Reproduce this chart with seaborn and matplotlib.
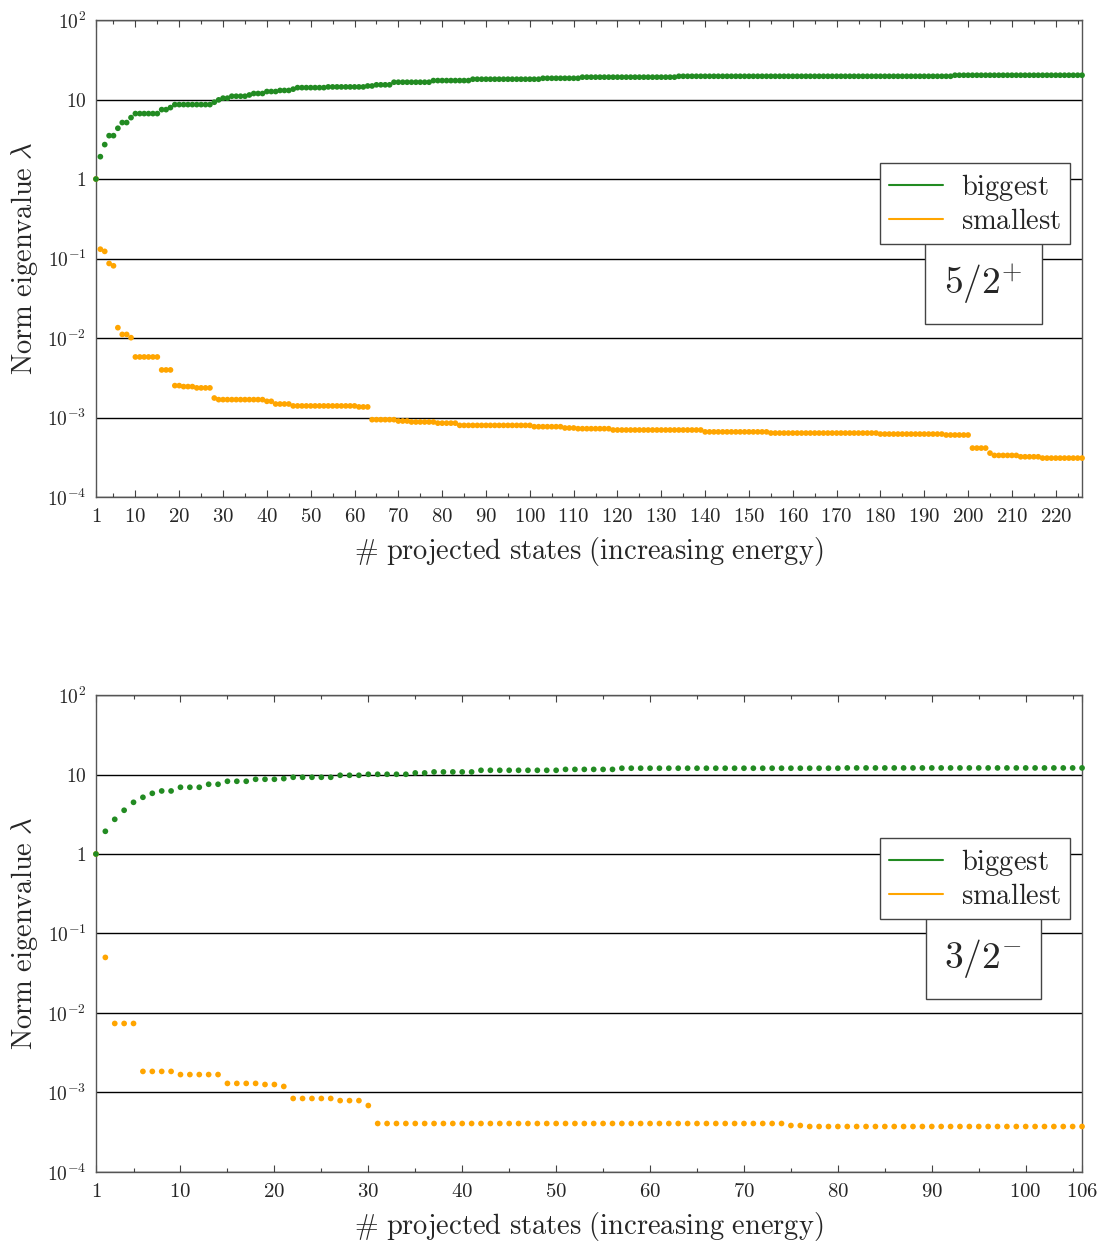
import matplotlib
matplotlib.use("Agg")
import matplotlib.pyplot as plt
from matplotlib.lines import Line2D
from matplotlib.ticker import MultipleLocator, NullLocator
import pandas as pd
import seaborn as sns

sns.set_style("white")
plt.rcParams['mathtext.fontset'] = 'cm'
plt.rcParams['font.family'] = ['DejaVu Serif']

GREEN = '#228b22'
ORANGE = '#ffa500'

# 5/2+ : 226 projected states
top_biggest = [
    1.0, 1.91, 2.71, 3.51, 3.51, 4.35, 5.13, 5.13, 5.92, 6.65,
    6.65, 6.65, 6.65, 6.65, 6.65, 7.46, 7.46, 7.91, 8.63, 8.63,
    8.63, 8.63, 8.63, 8.63, 8.63, 8.63, 8.63, 9.24, 9.89, 10.4,
    10.4, 11.0, 11.0, 11.0, 11.0, 11.4, 11.9, 11.9, 11.9, 12.6,
    12.6, 12.6, 13.0, 13.0, 13.0, 13.5, 14.1, 14.1, 14.1, 14.1,
    14.1, 14.1, 14.1, 14.4, 14.4, 14.4, 14.4, 14.4, 14.4, 14.4,
    14.4, 14.4, 14.8, 14.8, 15.3, 15.3, 15.3, 15.3, 16.5, 16.5,
    16.5, 16.5, 16.5, 16.5, 16.5, 16.5, 16.5, 17.3, 17.3, 17.3,
    17.3, 17.3, 17.3, 17.3, 17.3, 17.3, 18.0, 18.0, 18.0, 18.0,
    18.0, 18.0, 18.0, 18.0, 18.0, 18.0, 18.0, 18.0, 18.0, 18.0,
    18.0, 18.0, 18.5, 18.5, 18.5, 18.5, 18.5, 18.5, 18.5, 18.5,
    18.5, 19.1, 19.1, 19.1, 19.1, 19.1, 19.1, 19.1, 19.1, 19.1,
    19.1, 19.1, 19.1, 19.1, 19.1, 19.1, 19.1, 19.1, 19.1, 19.1,
    19.1, 19.1, 19.1, 19.6, 19.6, 19.6, 19.6, 19.6, 19.6, 19.6,
    19.6, 19.6, 19.6, 19.6, 19.6, 19.6, 19.6, 19.6, 19.6, 19.6,
    19.6, 19.6, 19.6, 19.6, 19.6, 19.6, 19.6, 19.6, 19.6, 19.6,
    19.6, 19.6, 19.6, 19.6, 19.6, 19.6, 19.6, 19.6, 19.6, 19.6,
    19.6, 19.6, 19.6, 19.6, 19.6, 19.6, 19.6, 19.6, 19.6, 19.6,
    19.6, 19.6, 19.6, 19.6, 19.6, 19.6, 19.6, 19.6, 19.6, 19.6,
    19.6, 19.6, 19.6, 19.6, 19.6, 19.6, 20.2, 20.2, 20.2, 20.2,
    20.2, 20.2, 20.2, 20.2, 20.2, 20.2, 20.2, 20.2, 20.2, 20.2,
    20.2, 20.2, 20.2, 20.2, 20.2, 20.2, 20.2, 20.2, 20.2, 20.2,
    20.2, 20.2, 20.2, 20.2, 20.2, 20.2,
]
top_smallest = [
    1.0, 0.131, 0.123, 0.0867, 0.081, 0.0135, 0.0111, 0.0111, 0.0101, 0.00578,
    0.00578, 0.00578, 0.00578, 0.00578, 0.00578, 0.00397, 0.00397, 0.00397, 0.00252, 0.00252,
    0.00245, 0.00245, 0.00245, 0.00236, 0.00236, 0.00236, 0.00236, 0.00176, 0.00168, 0.00168,
    0.00168, 0.00168, 0.00168, 0.00168, 0.00168, 0.00168, 0.00168, 0.00168, 0.00168, 0.0016,
    0.0016, 0.00148, 0.00148, 0.00148, 0.00148, 0.0014, 0.0014, 0.0014, 0.0014, 0.0014,
    0.0014, 0.0014, 0.0014, 0.0014, 0.0014, 0.0014, 0.0014, 0.0014, 0.0014, 0.0014,
    0.00136, 0.00136, 0.00136, 0.00094, 0.00094, 0.00094, 0.00094, 0.00094, 0.00094, 0.000904,
    0.000904, 0.000904, 0.000879, 0.000879, 0.000879, 0.000879, 0.000879, 0.000879, 0.00085, 0.00085,
    0.00085, 0.00085, 0.00085, 0.000797, 0.000797, 0.000797, 0.000797, 0.000797, 0.000797, 0.000797,
    0.000797, 0.000797, 0.000797, 0.000797, 0.000797, 0.000797, 0.000797, 0.000797, 0.000797, 0.000797,
    0.000767, 0.000767, 0.000767, 0.000767, 0.000767, 0.000767, 0.000767, 0.000739, 0.000739, 0.000739,
    0.000724, 0.000724, 0.000724, 0.000724, 0.000724, 0.000724, 0.000724, 0.000724, 0.000697, 0.000697,
    0.000697, 0.000697, 0.000697, 0.000697, 0.000697, 0.000697, 0.000697, 0.000697, 0.000697, 0.000697,
    0.000697, 0.000697, 0.000697, 0.000697, 0.000697, 0.000697, 0.000697, 0.000697, 0.000697, 0.00066,
    0.00066, 0.00066, 0.00066, 0.00066, 0.00066, 0.00066, 0.00066, 0.00066, 0.00066, 0.00066,
    0.00066, 0.00066, 0.00066, 0.00066, 0.000638, 0.000638, 0.000638, 0.000638, 0.000638, 0.000638,
    0.000638, 0.000638, 0.000638, 0.000638, 0.000638, 0.000638, 0.000638, 0.000638, 0.000638, 0.000638,
    0.000638, 0.000638, 0.000638, 0.000638, 0.000638, 0.000638, 0.000638, 0.000638, 0.000638, 0.00062,
    0.00062, 0.00062, 0.00062, 0.00062, 0.00062, 0.00062, 0.00062, 0.00062, 0.00062, 0.00062,
    0.00062, 0.00062, 0.00062, 0.00062, 0.000603, 0.000603, 0.000603, 0.000603, 0.000603, 0.000603,
    0.000413, 0.000413, 0.000413, 0.000413, 0.000357, 0.000334, 0.000334, 0.000334, 0.000334, 0.000334,
    0.000334, 0.000321, 0.000321, 0.000321, 0.000321, 0.000321, 0.000309, 0.000309, 0.000309, 0.000309,
    0.000309, 0.000309, 0.000309, 0.000309, 0.000309, 0.000309,
]

# 3/2- : 106 projected states
bot_biggest = [
    1.0, 1.93, 2.73, 3.55, 4.47, 5.17, 5.8, 6.21, 6.21, 6.91,
    6.91, 6.91, 7.54, 7.54, 8.22, 8.22, 8.22, 8.71, 8.71, 8.71,
    8.88, 9.23, 9.23, 9.23, 9.23, 9.23, 9.78, 9.78, 9.78, 10.07,
    10.07, 10.07, 10.07, 10.07, 10.47, 10.47, 10.77, 10.77, 10.77, 10.77,
    10.77, 11.3, 11.3, 11.3, 11.3, 11.3, 11.3, 11.3, 11.3, 11.3,
    11.6, 11.6, 11.6, 11.6, 11.6, 11.6, 12.0, 12.0, 12.0, 12.0,
    12.0, 12.0, 12.0, 12.0, 12.0, 12.0, 12.0, 12.0, 12.0, 12.0,
    12.0, 12.0, 12.0, 12.0, 12.0, 12.0, 12.0, 12.0, 12.0, 12.0,
    12.1, 12.1, 12.1, 12.1, 12.1, 12.1, 12.1, 12.1, 12.1, 12.1,
    12.1, 12.1, 12.1, 12.1, 12.1, 12.1, 12.1, 12.1, 12.1, 12.1,
    12.1, 12.1, 12.1, 12.1, 12.1, 12.1,
]
bot_smallest = [
    1.0, 0.05, 0.00738, 0.00738, 0.00738, 0.00184, 0.00184, 0.00184, 0.00184, 0.00168,
    0.00168, 0.00168, 0.00168, 0.00168, 0.0013, 0.0013, 0.0013, 0.0013, 0.00126, 0.00126,
    0.00119, 0.00084, 0.00084, 0.00084, 0.00084, 0.00084, 0.00079, 0.00079, 0.00079, 0.000685,
    0.000407, 0.000407, 0.000407, 0.000407, 0.000407, 0.000407, 0.000407, 0.000407, 0.000407, 0.000407,
    0.000407, 0.000407, 0.000407, 0.000407, 0.000407, 0.000407, 0.000407, 0.000407, 0.000407, 0.000407,
    0.000407, 0.000407, 0.000407, 0.000407, 0.000407, 0.000407, 0.000407, 0.000407, 0.000407, 0.000407,
    0.000407, 0.000407, 0.000407, 0.000407, 0.000407, 0.000407, 0.000407, 0.000407, 0.000407, 0.000407,
    0.000407, 0.000407, 0.000407, 0.000407, 0.000384, 0.000384, 0.000373, 0.000373, 0.000373, 0.000373,
    0.000373, 0.000373, 0.000373, 0.000373, 0.000373, 0.000373, 0.000373, 0.000373, 0.000373, 0.000373,
    0.000373, 0.000373, 0.000373, 0.000373, 0.000373, 0.000373, 0.000373, 0.000373, 0.000373, 0.000373,
    0.000373, 0.000373, 0.000373, 0.000373, 0.000373, 0.000373,
]

top_xticks = [1, 10, 20, 30, 40, 50, 60, 70, 80, 90, 100, 110, 120, 130, 140,
              150, 160, 170, 180, 190, 200, 210, 220]
bot_xticks = [1, 10, 20, 30, 40, 50, 60, 70, 80, 90, 100, 106]
yticks = [1e-4, 1e-3, 1e-2, 1e-1, 1, 10, 100]
ytick_labels = [r'$10^{-4}$', r'$10^{-3}$', r'$10^{-2}$', r'$10^{-1}$', r'$1$', r'$10$', r'$10^{2}$']


def plot_panel(ax, biggest, smallest, xmax, xticks, label):
    n = len(biggest)
    df = pd.DataFrame({
        'state': list(range(1, n + 1)) * 2,
        'lam': smallest + biggest,
        'kind': ['smallest'] * n + ['biggest'] * n,
    })
    sns.scatterplot(data=df, x='state', y='lam', hue='kind',
                    palette={'biggest': GREEN, 'smallest': ORANGE},
                    s=17, linewidth=0, legend=False, ax=ax, zorder=3, clip_on=False)
    ax.set_yscale('log')
    ax.set_ylim(1e-4, 1e2)
    ax.set_xlim(1, xmax)

    ax.set_yticks(yticks)
    ax.set_yticklabels(ytick_labels, fontsize=14)
    ax.yaxis.set_minor_locator(NullLocator())
    ax.tick_params(axis='y', which='both', length=0, pad=7)
    ax.yaxis.grid(True, color='black', linewidth=1.0)
    ax.set_axisbelow(True)

    ax.set_xticks(xticks)
    ax.set_xticklabels([rf'${t}$' for t in xticks], fontsize=15)
    ax.xaxis.set_minor_locator(MultipleLocator(5))
    ax.tick_params(axis='x', which='both', direction='in', top=True, bottom=True,
                   color='#444444', width=0.8)
    ax.tick_params(axis='x', which='major', length=5, pad=7)
    ax.tick_params(axis='x', which='minor', length=3)

    for sp in ax.spines.values():
        sp.set_color('#555555')
        sp.set_linewidth(1.0)

    ax.set_xlabel(r'$\mathrm{\#\ projected\ states\ (increasing\ energy)}$', fontsize=20.5, labelpad=7)
    ax.set_ylabel(r'$\mathrm{Norm\ eigenvalue}\ \lambda$', fontsize=20.5)
    ax.yaxis.set_label_coords(-0.057, 0.5)

    handles = [Line2D([], [], color=GREEN, lw=1.5, label=r'$\mathrm{biggest}$'),
               Line2D([], [], color=ORANGE, lw=1.5, label=r'$\mathrm{smallest}$')]
    leg = ax.legend(handles=handles, loc='upper right', bbox_to_anchor=(0.988, 0.70),
                    fontsize=20.5, frameon=True, fancybox=False, framealpha=1,
                    edgecolor='#444444', borderpad=0.3, handlelength=1.9,
                    labelspacing=0.2, handletextpad=0.65, borderaxespad=0)
    leg.get_frame().set_linewidth(1.0)

    ax.text(0.9, 0.448, label, transform=ax.transAxes, ha='center', va='center',
            fontsize=27, zorder=5,
            bbox=dict(boxstyle='square,pad=0.5', fc='white', ec='#444444', lw=1.0))


fig = plt.figure(figsize=(11.03, 12.42), dpi=100)
ax1 = fig.add_axes([0.087, 0.5998, 0.894, 0.3841])
ax2 = fig.add_axes([0.087, 0.0564, 0.894, 0.3840])

plot_panel(ax1, top_biggest, top_smallest, 226, top_xticks, r'$5/2^{+}$')
plot_panel(ax2, bot_biggest, bot_smallest, 106, bot_xticks, r'$3/2^{-}$')

fig.savefig('out.png', dpi=100)
